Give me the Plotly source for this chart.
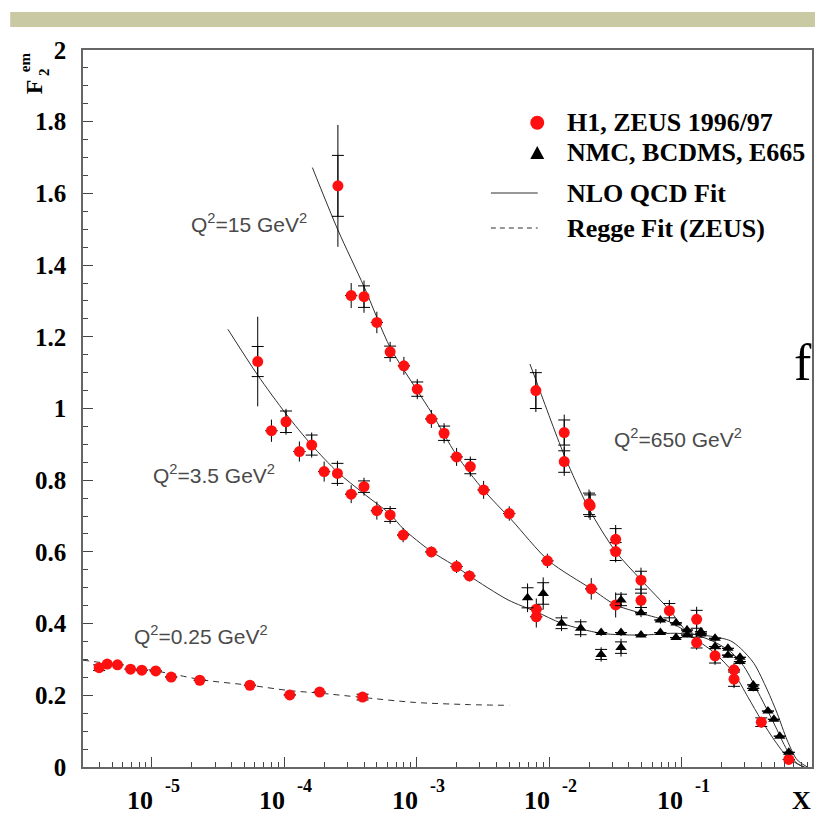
import plotly.graph_objects as go

# ---------------- data ----------------
# Q2 = 0.25 GeV2  (H1, ZEUS 1996/97)
x_q025 = [4.0e-6, 4.6e-6, 5.5e-6, 6.9e-6, 8.4e-6, 1.07e-5, 1.4e-5, 2.3e-5, 5.5e-5, 1.1e-4, 1.85e-4, 3.9e-4]
f2_q025 = [0.277, 0.287, 0.285, 0.273, 0.270, 0.268, 0.251, 0.242, 0.228, 0.201, 0.209, 0.195]
tot_q025 = [0.013, 0.008, 0.008, 0.008, 0.008, 0.008, 0.008, 0.009, 0.010, 0.010, 0.010, 0.012]
stat_q025 = [0.008, 0.0, 0.0, 0.0, 0.0, 0.0, 0.0, 0.0, 0.0, 0.0, 0.0, 0.008]

# Q2 = 3.5 GeV2
x_q35 = [6.3e-5, 8.0e-5, 1.03e-4, 1.3e-4, 1.61e-4, 2.0e-4, 2.52e-4, 3.2e-4, 4.0e-4, 5.0e-4, 6.3e-4, 7.9e-4, 1.29e-3, 2.0e-3, 2.5e-3, 8.0e-3, 8.0e-3]
f2_q35 = [1.131, 0.938, 0.963, 0.880, 0.898, 0.824, 0.819, 0.761, 0.782, 0.715, 0.703, 0.647, 0.600, 0.559, 0.533, 0.440, 0.419]
tot_q35 = [0.125, 0.031, 0.036, 0.028, 0.035, 0.028, 0.035, 0.025, 0.025, 0.025, 0.025, 0.020, 0.015, 0.018, 0.015, 0.030, 0.030]
stat_q35 = [0.042, 0.0, 0.030, 0.0, 0.028, 0.0, 0.028, 0.0, 0.016, 0.0, 0.018, 0.0, 0.0, 0.0, 0.0, 0.0, 0.0]

# Q2 = 15 GeV2
x_q15 = [2.54e-4, 3.2e-4, 4.0e-4, 5.0e-4, 6.3e-4, 8.0e-4, 1.01e-3, 1.29e-3, 1.61e-3, 2.0e-3, 2.54e-3, 3.2e-3, 5.0e-3, 9.7e-3, 2.08e-2, 3.18e-2]
f2_q15 = [1.621, 1.315, 1.312, 1.240, 1.158, 1.119, 1.054, 0.971, 0.931, 0.865, 0.838, 0.773, 0.707, 0.575, 0.497, 0.452]
tot_q15 = [0.170, 0.035, 0.045, 0.030, 0.028, 0.025, 0.028, 0.025, 0.028, 0.025, 0.028, 0.025, 0.020, 0.020, 0.030, 0.035]
stat_q15 = [0.085, 0.0, 0.030, 0.0, 0.016, 0.0, 0.020, 0.0, 0.020, 0.0, 0.020, 0.0, 0.0, 0.0, 0.0, 0.0]

# Q2 = 650 GeV2
x_q650 = [7.94e-3, 1.30e-2, 1.30e-2, 2.0e-2, 2.04e-2, 3.18e-2, 3.18e-2, 4.94e-2, 4.94e-2, 8.09e-2, 0.130, 0.130, 0.179, 0.249, 0.249, 0.40, 0.645]
f2_q650 = [1.050, 0.933, 0.852, 0.734, 0.729, 0.635, 0.601, 0.521, 0.465, 0.436, 0.412, 0.347, 0.310, 0.271, 0.245, 0.125, 0.021]
tot_q650 = [0.060, 0.050, 0.040, 0.040, 0.040, 0.040, 0.030, 0.035, 0.030, 0.030, 0.035, 0.020, 0.025, 0.020, 0.025, 0.015, 0.010]
stat_q650 = [0.050, 0.035, 0.030, 0.030, 0.030, 0.030, 0.025, 0.025, 0.020, 0.020, 0.025, 0.015, 0.020, 0.0, 0.020, 0.012, 0.0]

# NMC, BCDMS, E665 (black triangles)
x_fix = [6.87e-3, 9.02e-3, 1.24e-2, 1.73e-2, 2.47e-2, 2.47e-2, 3.49e-2, 3.49e-2, 3.49e-2, 4.94e-2, 4.94e-2,
         6.92e-2, 6.92e-2, 9.08e-2, 9.08e-2, 0.110, 0.110, 0.140, 0.140, 0.179, 0.179, 0.224, 0.224,
         0.276, 0.276, 0.348, 0.348, 0.449, 0.498, 0.552, 0.645]
f2_fix = [0.472, 0.484, 0.401, 0.387, 0.375, 0.314, 0.466, 0.375, 0.333, 0.430, 0.368,
          0.410, 0.375, 0.402, 0.361, 0.382, 0.368, 0.377, 0.371, 0.359, 0.336, 0.331, 0.312,
          0.306, 0.294, 0.229, 0.219, 0.156, 0.133, 0.086, 0.041]
tot_fix = [0.040, 0.045, 0.022, 0.025, 0.010, 0.020, 0.022, 0.010, 0.025, 0.012, 0.006,
           0.010, 0.006, 0.010, 0.006, 0.012, 0.006, 0.010, 0.008, 0.010, 0.010, 0.008, 0.008,
           0.008, 0.008, 0.008, 0.008, 0.006, 0.006, 0.005, 0.005]
stat_fix = [0.028, 0.030, 0.015, 0.018, 0.0, 0.014, 0.016, 0.0, 0.016, 0.0, 0.0,
            0.0, 0.0, 0.0, 0.0, 0.0, 0.0, 0.0, 0.0, 0.0, 0.0, 0.0, 0.0,
            0.0, 0.0, 0.0, 0.0, 0.0, 0.0, 0.0, 0.0]

# NLO QCD fit curves
fit35_x = [3.75e-5, 6.3e-5, 1.03e-4, 1.61e-4, 2.52e-4, 4.0e-4, 6.3e-4, 7.94e-4, 1.27e-3, 2.0e-3, 2.5e-3,
           4.9e-3, 8.0e-3, 1.24e-2, 2.47e-2, 4.94e-2, 8.8e-2, 0.165, 0.234, 0.279, 0.352, 0.444, 0.527,
           0.627, 0.745, 0.89]
fit35_y = [1.221, 1.093, 0.985, 0.898, 0.823, 0.762, 0.705, 0.664, 0.603, 0.558, 0.533,
           0.466, 0.433, 0.401, 0.373, 0.368, 0.373, 0.365, 0.352, 0.331, 0.289, 0.215, 0.150,
           0.075, 0.020, 0.0]

fit15_x = [1.63e-4, 2.54e-4, 4.0e-4, 6.31e-4, 1.01e-3, 1.30e-3, 2.0e-3, 3.19e-3, 5.21e-3, 9.95e-3, 2.08e-2,
           3.18e-2, 4.94e-2, 8.09e-2, 0.111, 0.165, 0.234, 0.296, 0.394, 0.498, 0.627, 0.745, 0.85]
fit15_y = [1.672, 1.498, 1.340, 1.170, 1.050, 0.987, 0.870, 0.773, 0.689, 0.575, 0.497,
           0.452, 0.429, 0.405, 0.377, 0.354, 0.322, 0.280, 0.196, 0.122, 0.047, 0.010, 0.0]

fit650_x = [7.16e-3, 7.94e-3, 1.30e-2, 2.0e-2, 3.18e-2, 4.94e-2, 8.09e-2, 0.111, 0.179, 0.249, 0.316,
            0.40, 0.513, 0.645, 0.836]
fit650_y = [1.124, 1.080, 0.870, 0.720, 0.601, 0.522, 0.438, 0.375, 0.317, 0.261, 0.196,
            0.131, 0.070, 0.024, 0.0]

# Regge fit (ZEUS), Q2 = 0.25 GeV2
regge_x = [3.02e-6, 5.5e-6, 1.0e-5, 1.58e-5, 2.51e-5, 5.5e-5, 1.1e-4, 1.86e-4, 3.9e-4, 9.8e-4, 2.5e-3, 5.0e-3]
regge_y = [0.298, 0.285, 0.270, 0.256, 0.242, 0.228, 0.213, 0.206, 0.194, 0.180, 0.174, 0.172]

# axis ticks: decades 10^-5 ... 10^-1
x_decades = [-5, -4, -3, -2, -1]
x_tickvals = [10.0 ** d for d in x_decades]
x_minor = [m * d for d in [1e-6, 1e-5, 1e-4, 1e-3, 1e-2, 1e-1] for m in range(2, 10)]
y_tickvals = [0, 0.2, 0.4, 0.6, 0.8, 1.0, 1.2, 1.4, 1.6, 1.8, 2.0]
y_ticktext = ["0", "0.2", "0.4", "0.6", "0.8", "1", "1.2", "1.4", "1.6", "1.8", "2"]

# Labels
q2_labels = ["Q<sup>2</sup>=15 GeV<sup>2</sup>", "Q<sup>2</sup>=3.5 GeV<sup>2</sup>",
             "Q<sup>2</sup>=650 GeV<sup>2</sup>", "Q<sup>2</sup>=0.25 GeV<sup>2</sup>"]
legend_labels = ["H1, ZEUS 1996/97", "NMC, BCDMS, E665", "NLO QCD Fit", "Regge Fit (ZEUS)"]

# ---------------- layout geometry (pixels) ----------------
W, H = 817, 818
L, R, T, B = 83, 814, 50, 767
PW, PH = R - L, B - T


def px(xp):
    return (xp - L) / PW


def py(yp):
    return (B - yp) / PH


SERIF = "Liberation Serif, Times New Roman, serif"
SANS = "Liberation Sans, Arial, sans-serif"
RED = "#ff1010"

fig = go.Figure()

# fit curves
for fx, fy in [(fit35_x, fit35_y), (fit15_x, fit15_y), (fit650_x, fit650_y)]:
    fig.add_trace(go.Scatter(x=fx, y=fy, mode="lines", line=dict(color="#303030", width=1, shape="spline", smoothing=0.8),
                             hoverinfo="skip", showlegend=False))
fig.add_trace(go.Scatter(x=regge_x, y=regge_y, mode="lines",
                         line=dict(color="#303030", width=1, dash="6px,5px", shape="spline", smoothing=0.8),
                         hoverinfo="skip", showlegend=False))

# data points
red_sets = [(x_q025, f2_q025, tot_q025, stat_q025), (x_q35, f2_q35, tot_q35, stat_q35),
            (x_q15, f2_q15, tot_q15, stat_q15), (x_q650, f2_q650, tot_q650, stat_q650)]
for xs, ys, tot, st in red_sets:
    fig.add_trace(go.Scatter(x=xs, y=ys, mode="markers",
                             marker=dict(color="rgba(0,0,0,0)", size=1),
                             error_y=dict(type="data", array=st, color="black", thickness=1, width=6),
                             hoverinfo="skip", showlegend=False))
    fig.add_trace(go.Scatter(x=xs, y=ys, mode="markers",
                             marker=dict(color=RED, size=11, symbol="circle"),
                             error_y=dict(type="data", array=tot, color="black", thickness=1, width=0),
                             showlegend=False))

fig.add_trace(go.Scatter(x=x_fix, y=f2_fix, mode="markers",
                         marker=dict(color="rgba(0,0,0,0)", size=1),
                         error_y=dict(type="data", array=stat_fix, color="black", thickness=1, width=6),
                         hoverinfo="skip", showlegend=False))
fig.add_trace(go.Scatter(x=x_fix, y=f2_fix, mode="markers",
                         marker=dict(color="black", size=10, symbol="triangle-up"),
                         error_y=dict(type="data", array=tot_fix, color="black", thickness=1, width=0),
                         showlegend=False))

shapes = []
annotations = []

# top decorative band of the slide
shapes.append(dict(type="rect", xref="paper", yref="paper", x0=px(10), x1=px(817), y0=py(27), y1=py(12),
                   fillcolor="#c9c9a4", line=dict(width=0), layer="below"))

# legend (drawn by hand to match the original layout)
leg_rows = [122.7, 152.5, 193, 228]
shapes.append(dict(type="circle", xref="paper", yref="paper",
                   x0=px(531.5), x1=px(545.5), y0=py(129.7), y1=py(115.7),
                   fillcolor=RED, line=dict(width=0)))
shapes.append(dict(type="path", xref="paper", yref="paper",
                   path="M {},{} L {},{} L {},{} Z".format(px(531.5), py(159), px(545.5), py(159), px(538.5), py(146)),
                   fillcolor="black", line=dict(width=0)))
shapes.append(dict(type="line", xref="paper", yref="paper", x0=px(492), x1=px(539), y0=py(193), y1=py(193),
                   line=dict(color="#303030", width=1)))
shapes.append(dict(type="line", xref="paper", yref="paper", x0=px(492), x1=px(539), y0=py(228), y1=py(228),
                   line=dict(color="#303030", width=1, dash="5px,4px")))
for txt, yy in zip(legend_labels, leg_rows):
    annotations.append(dict(xref="paper", yref="paper", x=px(566), y=py(yy), text=txt,
                            showarrow=False, xanchor="left", yanchor="middle",
                            font=dict(family=SERIF, size=26, color="black", weight="bold")))

# x tick labels: "10" with a detached, raised exponent (as in the original)
for d in x_decades:
    annotations.append(dict(xref="x", yref="paper", x=d, y=py(800), text="10", showarrow=False,
                            xanchor="right", yanchor="middle", xshift=3,
                            font=dict(family=SERIF, size=26, color="black", weight="bold")))
    annotations.append(dict(xref="x", yref="paper", x=d, y=py(786), text=str(d), showarrow=False,
                            xanchor="left", yanchor="middle", xshift=11,
                            font=dict(family=SERIF, size=18, color="black", weight="bold")))

# Q2 labels
for txt, (cx, cy) in zip(q2_labels, [(249, 223), (214, 474), (680, 438), (201, 635)]):
    annotations.append(dict(xref="paper", yref="paper", x=px(cx), y=py(cy), text=txt, showarrow=False,
                            xanchor="center", yanchor="middle", font=dict(family=SANS, size=21, color="#4a4a4a")))

# y-axis title F2^em (rotated)
annotations.append(dict(xref="paper", yref="paper", x=px(34), y=py(87), text="F", showarrow=False,
                        textangle=-90, xanchor="center", yanchor="middle",
                        font=dict(family=SERIF, size=24, color="black", weight="bold")))
annotations.append(dict(xref="paper", yref="paper", x=px(44), y=py(72), text="2", showarrow=False,
                        textangle=-90, xanchor="center", yanchor="middle",
                        font=dict(family=SERIF, size=15, color="black", weight="bold")))
annotations.append(dict(xref="paper", yref="paper", x=px(25), y=py(62), text="em", showarrow=False,
                        textangle=-90, xanchor="center", yanchor="middle",
                        font=dict(family=SERIF, size=15, color="black", weight="bold")))

# x-axis title
annotations.append(dict(xref="paper", yref="paper", x=px(803), y=py(800), text="X", showarrow=False,
                        xanchor="center", yanchor="middle",
                        font=dict(family=SERIF, size=26, color="black", weight="bold")))

# slide text partly hidden behind the figure
annotations.append(dict(xref="paper", yref="paper", x=px(805), y=py(362), text="f", showarrow=False,
                        xanchor="center", yanchor="middle", font=dict(family=SERIF, size=52, color="black")))

fig.update_layout(
    width=W, height=H,
    margin=dict(l=L, r=W - R, t=T, b=H - B),
    paper_bgcolor="white", plot_bgcolor="white",
    showlegend=False,
    shapes=shapes, annotations=annotations,
    xaxis=dict(type="log", range=[-5.52, -0.015], showgrid=False, zeroline=False,
               showline=True, mirror=True, linecolor="#666666", linewidth=1.5,
               ticks="inside", ticklen=10, tickcolor="#444444", tickwidth=1,
               tickvals=x_tickvals, showticklabels=False,
               minor=dict(tickvals=x_minor, ticks="inside", ticklen=5, tickcolor="#444444", tickwidth=1, showgrid=False)),
    yaxis=dict(range=[0, 2], showgrid=False, zeroline=False,
               showline=True, mirror=True, linecolor="#666666", linewidth=1.5,
               ticks="inside", ticklen=10, tickcolor="#444444", tickwidth=1,
               tickvals=y_tickvals, ticktext=y_ticktext, ticklabelstandoff=10,
               tickfont=dict(family=SERIF, size=25, color="black", weight="bold"),
               minor=dict(dtick=0.05, ticks="inside", ticklen=5, tickcolor="#444444", tickwidth=1, showgrid=False)),
)

fig.write_html("out.html", config={"displayModeBar": False},
               post_script="document.body.style.margin='0';document.body.style.overflow='hidden';")
